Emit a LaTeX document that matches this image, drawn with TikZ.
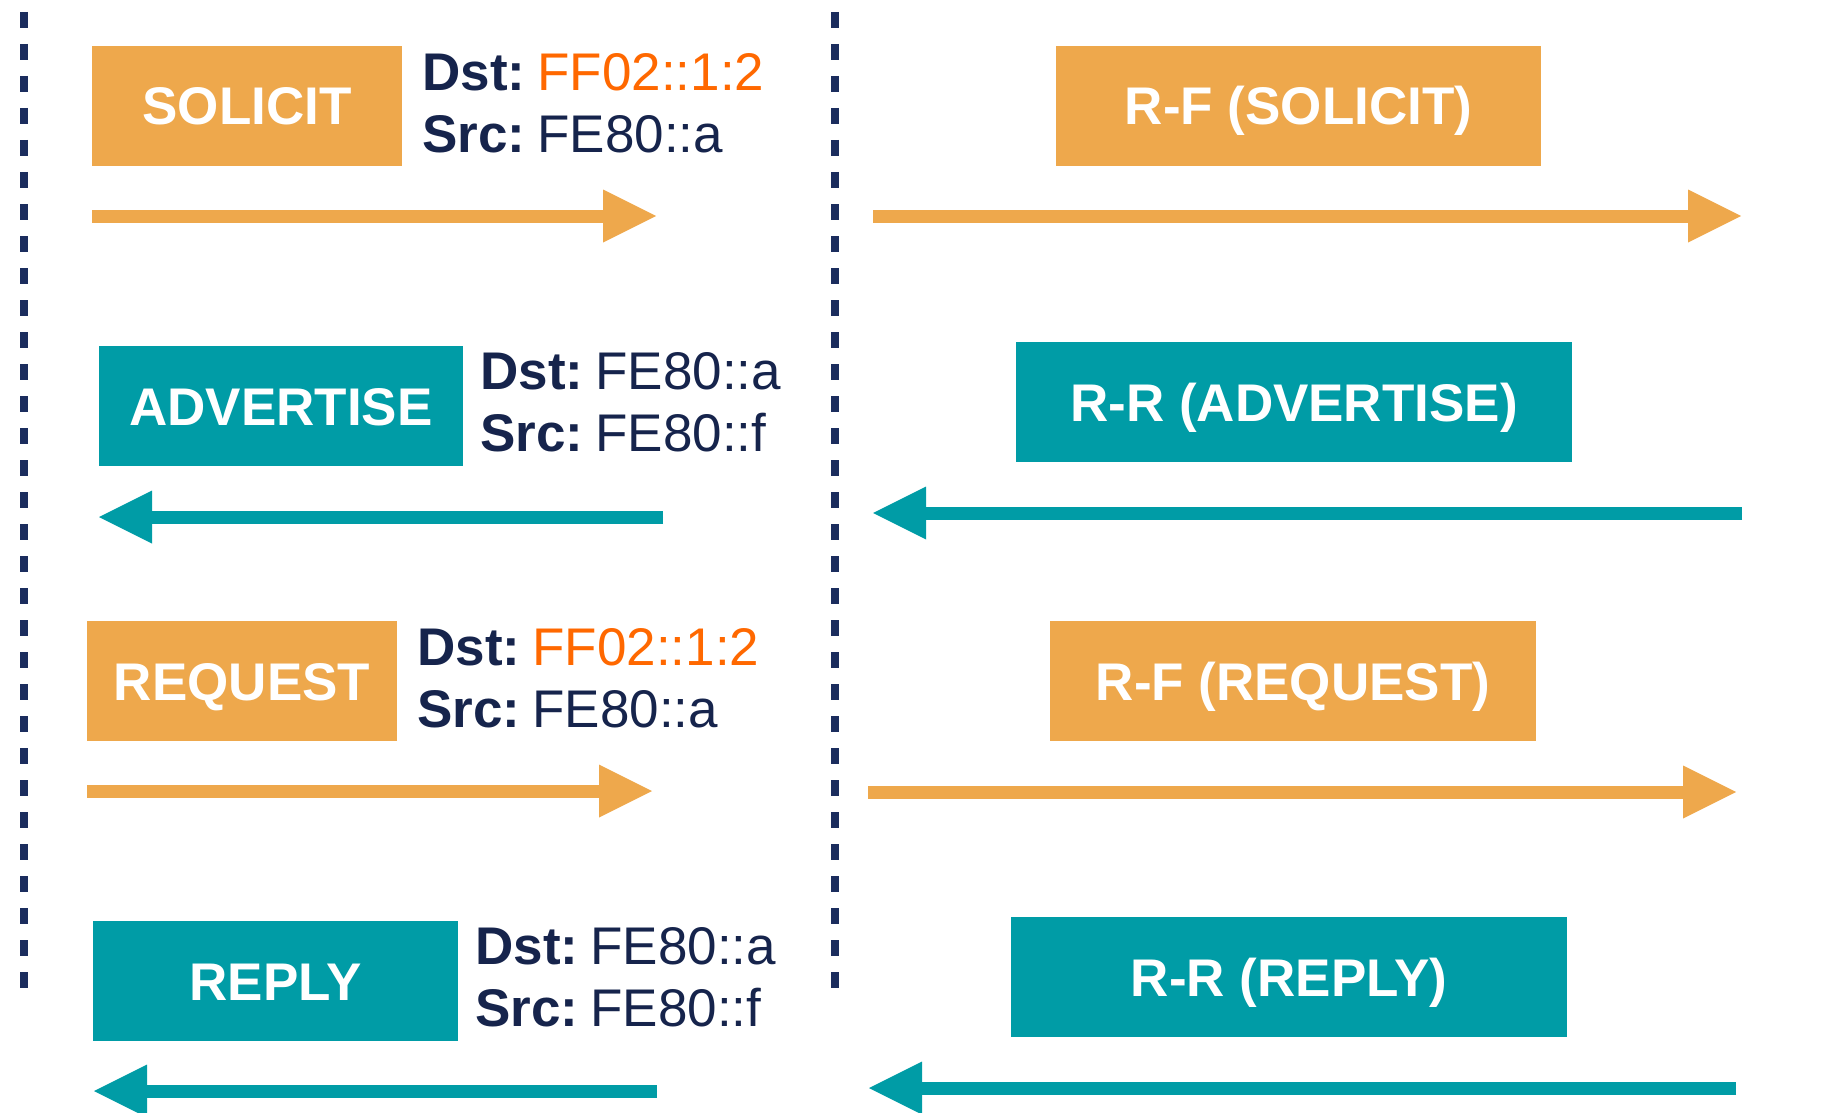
\documentclass[tikz,border=0pt]{standalone}
\usepackage{fontspec}
\setmainfont{Liberation Sans}
\usetikzlibrary{arrows.meta, positioning}

\definecolor{msgorange}{RGB}{238,168,76}
\definecolor{msgteal}{RGB}{0,156,166}
\definecolor{addrnavy}{RGB}{22,36,76}
\definecolor{addrorange}{RGB}{255,104,0}
\definecolor{lifenavy}{RGB}{27,45,94}

\newcommand{\addrkey}[1]{\textbf{#1}\hspace{12pt}}

\begin{document}
\begin{tikzpicture}[
  x=1pt, y=-1pt,
  >={Triangle[length=53pt, width=53pt, line width=0pt]},
  font=\fontsize{53}{62}\selectfont,
  msgbox/.style={rectangle, minimum height=120pt, inner sep=0pt, text height=38pt, text depth=0pt, text=white, font=\fontsize{53}{62}\selectfont\bfseries},
  orangebox/.style={msgbox, fill=msgorange},
  tealbox/.style={msgbox, fill=msgteal},
  addr/.style={inner sep=0pt, align=left, text=addrnavy},
  lifeline/.style={draw=lifenavy, line width=8pt, dash pattern=on 16pt off 16pt},
  orangearrow/.style={->, draw=msgorange, fill=msgorange, line width=13pt},
  tealarrow/.style={->, draw=msgteal, fill=msgteal, line width=13pt}
]
\useasboundingbox (0,0) rectangle (1829,1113);
% -------------------------------------------------------------------------
% LIFELINES
% -------------------------------------------------------------------------
\coordinate (client_top) at (23.5,12);
\coordinate (client_bot) at (23.5,988);
\coordinate (relay_top) at (835,12);
\coordinate (relay_bot) at (835,988);
\draw[lifeline] (client_top) -- (client_bot);
\draw[lifeline] (relay_top) -- (relay_bot);
% -------------------------------------------------------------------------
% CLIENT SIDE MESSAGES
% -------------------------------------------------------------------------
\node[orangebox, minimum width=310pt] (solicit) at (247,106) {SOLICIT};
\node[addr, right=20pt of solicit.north east, anchor=north west, yshift=-7pt] (solicit_addr) {\addrkey{Dst:}\textcolor{addrorange}{FF02::1:2}\\ \addrkey{Src:}FE80::a};

\node[tealbox, minimum width=364pt] (advertise) at (281,406) {ADVERTISE};
\node[addr, right=17pt of advertise.north east, anchor=north west, yshift=-6pt] (advertise_addr) {\addrkey{Dst:}FE80::a\\ \addrkey{Src:}FE80::f};

\node[orangebox, minimum width=310pt] (request) at (242,681) {REQUEST};
\node[addr, right=20pt of request.north east, anchor=north west, yshift=-7pt] (request_addr) {\addrkey{Dst:}\textcolor{addrorange}{FF02::1:2}\\ \addrkey{Src:}FE80::a};

\node[tealbox, minimum width=365pt] (reply) at (275.5,981) {REPLY};
\node[addr, right=17pt of reply.north east, anchor=north west, yshift=-6pt] (reply_addr) {\addrkey{Dst:}FE80::a\\ \addrkey{Src:}FE80::f};
% -------------------------------------------------------------------------
% RELAY SIDE MESSAGES
% -------------------------------------------------------------------------
\node[orangebox, minimum width=485pt] (rf_solicit) at (1298.5,106) {R-F (SOLICIT)};
\node[tealbox, minimum width=556pt] (rr_advertise) at (1294,402) {R-R (ADVERTISE)};
\node[orangebox, minimum width=486pt] (rf_request) at (1293,681) {R-F (REQUEST)};
\node[tealbox, minimum width=556pt] (rr_reply) at (1289,977) {R-R (REPLY)};
% -------------------------------------------------------------------------
% ARROWS
% -------------------------------------------------------------------------
\coordinate (solicit_from) at (92,216);
\coordinate (solicit_to) at (656,216);
\coordinate (advertise_from) at (663,517);
\coordinate (advertise_to) at (99,517);
\coordinate (request_from) at (87,791);
\coordinate (request_to) at (652,791);
\coordinate (reply_from) at (657,1091);
\coordinate (reply_to) at (94,1091);

\coordinate (rf_solicit_from) at (873,216);
\coordinate (rf_solicit_to) at (1741,216);
\coordinate (rr_advertise_from) at (1742,513);
\coordinate (rr_advertise_to) at (873,513);
\coordinate (rf_request_from) at (868,792);
\coordinate (rf_request_to) at (1736,792);
\coordinate (rr_reply_from) at (1736,1088);
\coordinate (rr_reply_to) at (869,1088);

\draw[orangearrow] (solicit_from) -- (solicit_to);
\draw[tealarrow] (advertise_from) -- (advertise_to);
\draw[orangearrow] (request_from) -- (request_to);
\draw[tealarrow] (reply_from) -- (reply_to);
\draw[orangearrow] (rf_solicit_from) -- (rf_solicit_to);
\draw[tealarrow] (rr_advertise_from) -- (rr_advertise_to);
\draw[orangearrow] (rf_request_from) -- (rf_request_to);
\draw[tealarrow] (rr_reply_from) -- (rr_reply_to);
\end{tikzpicture}
\end{document}
